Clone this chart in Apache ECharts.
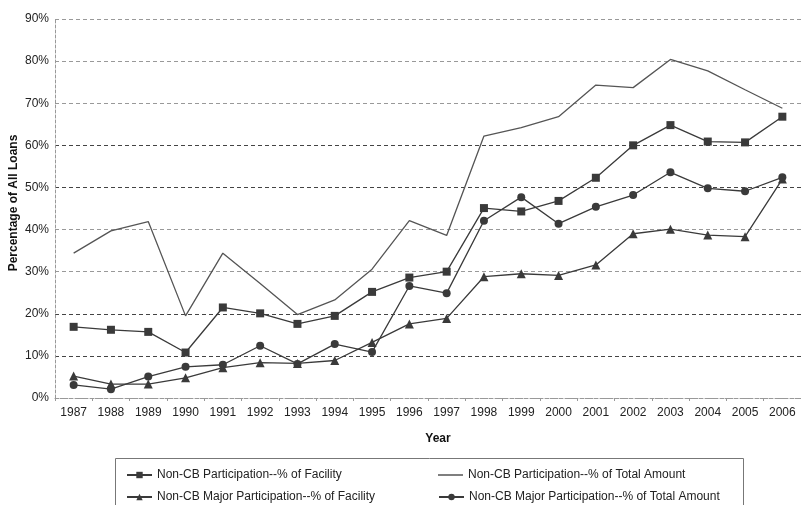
<!DOCTYPE html>
<html>
<head>
<meta charset="utf-8">
<script src="https://cdn.jsdelivr.net/npm/echarts@6/dist/echarts.min.js"></script>
<style>
html,body{margin:0;padding:0;background:#fff;}
#chart{width:801px;height:505px;}
</style>
</head>
<body>
<div id="chart"></div>
<script>
var years = ['1987','1988','1989','1990','1991','1992','1993','1994','1995','1996','1997','1998','1999','2000','2001','2002','2003','2004','2005','2006'];
var yTicks = [0,10,20,30,40,50,60,70,80,90];
var nonCBFacility = [16.9,16.2,15.7,10.8,21.5,20.1,17.6,19.5,25.2,28.6,30.0,45.1,44.3,46.8,52.3,60.0,64.8,60.9,60.7,66.8];
var nonCBAmount = [34.4,39.7,41.9,19.5,34.4,27.2,19.8,23.3,30.6,42.1,38.6,62.2,64.2,66.8,74.3,73.7,80.4,77.7,73.2,68.8];
var majorFacility = [5.2,3.3,3.3,4.8,7.2,8.4,8.2,8.9,13.2,17.6,18.9,28.8,29.5,29.1,31.6,39.0,40.1,38.7,38.3,52.0];
var majorAmount = [3.1,2.1,5.1,7.4,7.9,12.4,8.1,12.8,10.9,26.6,24.9,42.1,47.7,41.4,45.4,48.2,53.6,49.8,49.1,52.4];
var names = ['Non-CB Participation--% of Facility','Non-CB Participation--% of Total Amount','Non-CB Major Participation--% of Facility','Non-CB Major Participation--% of Total Amount'];

var chart = echarts.init(document.getElementById('chart'));
var font = 'Liberation Sans, Arial, sans-serif';
var lineCol = '#3a3a3a';
function ser(name, data, symbol, color){
  return {
    name: name, type: 'line', data: data,
    symbol: symbol, symbolSize: symbol === 'none' ? 0 : (symbol === 'triangle' ? 9 : 8),
    showSymbol: symbol !== 'none',
    lineStyle: {color: color, width: 1.3},
    itemStyle: {color: color},
    emphasis: {disabled: true},
    animation: false
  };
}
function legendAt(left, top, name, extra){
  var l = {
    left: left, top: top, padding: 0,
    itemWidth: 25, itemHeight: 8, itemGap: 0,
    textStyle: {fontFamily: font, fontSize: 12, color: '#222'},
    selectedMode: false, data: [name]
  };
  if (extra) { for (var k in extra) l[k] = extra[k]; }
  return l;
}
chart.setOption({
  backgroundColor: '#fff',
  animation: false,
  grid: {left: 55, top: 19, width: 747, height: 379, containLabel: false},
  xAxis: {
    type: 'category', data: years, boundaryGap: true,
    axisLine: {lineStyle: {color: '#999', type: [3,2], width: 1}},
    axisTick: {show: true, length: 3, lineStyle: {color: '#999'}},
    axisLabel: {fontFamily: font, fontSize: 12, color: '#222', margin: 9},
    splitLine: {show: false}
  },
  yAxis: {
    type: 'value', min: yTicks[0], max: yTicks[yTicks.length-1], interval: 10,
    axisLine: {show: true, lineStyle: {color: '#999', type: [3,2], width: 1}},
    axisTick: {show: false},
    axisLabel: {fontFamily: font, fontSize: 12, color: '#222', margin: 6, formatter: '{value}%'},
    splitLine: {show: true, lineStyle: {type: [4,3], width: 1,
      color: ['#999','#444','#444','#999','#999','#444','#444','#999','#999','#999']}}
  },
  legend: [
    legendAt(126, 469, names[0]),
    legendAt(126, 491, names[2]),
    legendAt(438, 469, names[1], {icon: 'rect', itemHeight: 1.5}),
    legendAt(438, 491, names[3])
  ],
  graphic: [
    {type: 'rect', shape: {x: 115.5, y: 458.5, width: 628, height: 60}, style: {fill: 'none', stroke: '#777', lineWidth: 1}, silent: true},
    {type: 'text', x: 14, y: 203, rotation: Math.PI/2, style: {text: 'Percentage of All Loans', font: 'bold 12px Liberation Sans, Arial, sans-serif', fill: '#111', align: 'center', verticalAlign: 'middle'}},
    {type: 'text', x: 438, y: 439, style: {text: 'Year', font: 'bold 12px Liberation Sans, Arial, sans-serif', fill: '#111', align: 'center', verticalAlign: 'middle'}}
  ],
  series: [
    ser(names[0], nonCBFacility, 'rect', lineCol),
    ser(names[1], nonCBAmount, 'none', '#555'),
    ser(names[2], majorFacility, 'triangle', lineCol),
    ser(names[3], majorAmount, 'circle', lineCol)
  ]
});
</script>
</body>
</html>
